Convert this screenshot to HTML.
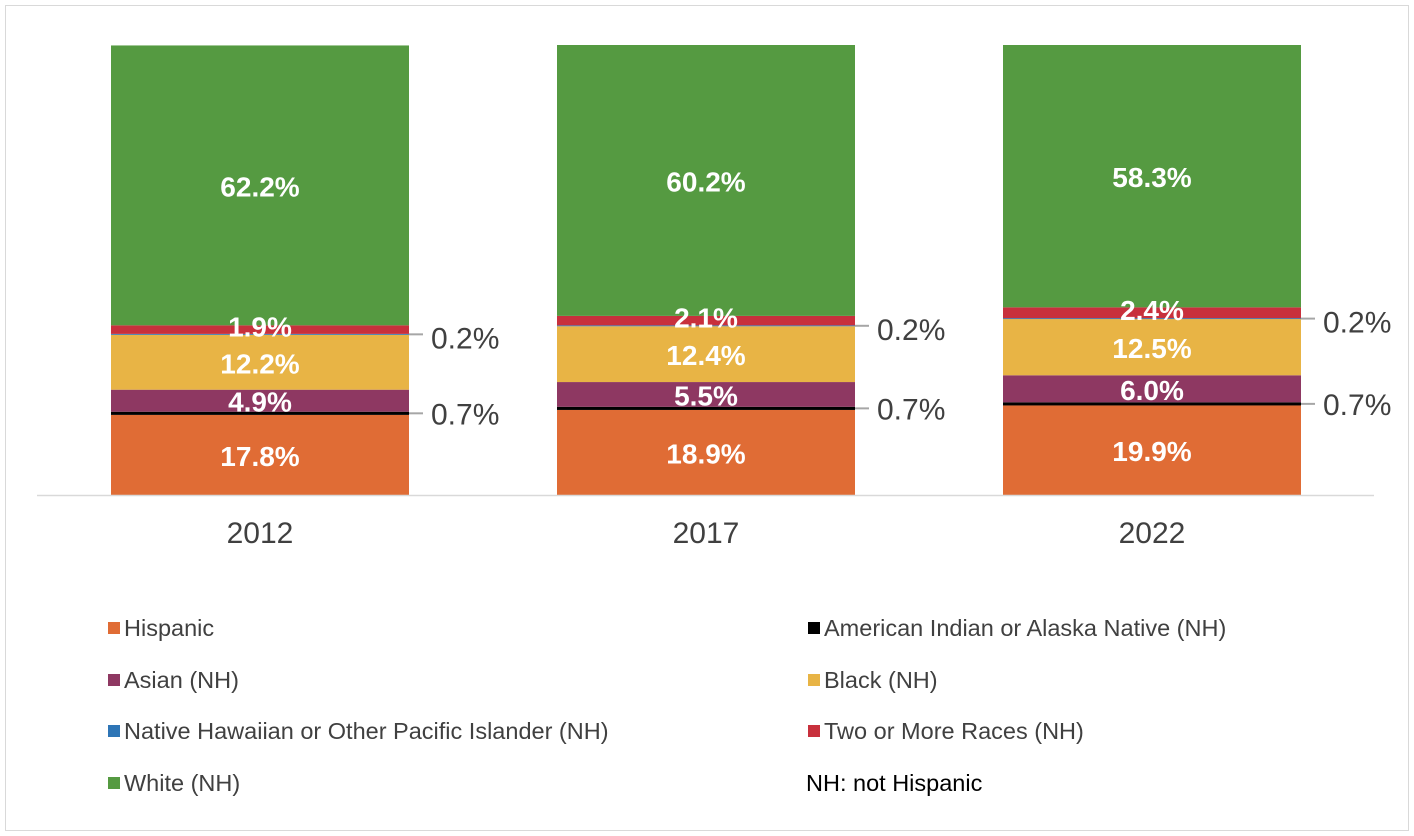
<!DOCTYPE html>
<html><head><meta charset="utf-8"><style>
body{margin:0;background:#fff;font-family:"Liberation Sans",Arial,sans-serif}
svg{display:block}
</style></head><body>
<svg id="chart" width="1414" height="836" xmlns="http://www.w3.org/2000/svg">
<rect x="5.5" y="5.5" width="1403" height="825" fill="#fff" stroke="#d9d9d9"/>
<g id="bars"></g>
<g id="labels"></g>
<line x1="37" y1="495.5" x2="1374" y2="495.5" stroke="#d9d9d9" stroke-width="1.5"/>
<g id="legend"></g>
</svg>
<script>
const years = ["2012","2017","2022"];
const seriesNames = ["Hispanic","American Indian or Alaska Native (NH)","Asian (NH)","Black (NH)","Native Hawaiian or Other Pacific Islander (NH)","Two or More Races (NH)","White (NH)"];
const hispanic = [17.8,18.9,19.9];
const aian = [0.7,0.7,0.7];
const asian = [4.9,5.5,6.0];
const black = [12.2,12.4,12.5];
const nhpi = [0.2,0.2,0.2];
const twoPlus = [1.9,2.1,2.4];
const white = [62.2,60.2,58.3];

const series=[hispanic,aian,asian,black,nhpi,twoPlus,white];
const colors=["#e06c35","#000000","#8e3862","#e8b445","#2e75b6","#c8303c","#559a41"];
const keys=["hispanic","aian","asian","black","nhpi","two-or-more","white"];
const NS="http://www.w3.org/2000/svg";
const y0=495, yTop=45;
const yScale=v=>(yTop-y0)/100*v;
const barW=298, centers=[260,706,1152];
const g=document.getElementById('bars');
const gl=document.getElementById('labels');
function el(t,a){const e=document.createElementNS(NS,t);for(const k in a)e.setAttribute(k,a[k]);return e;}
years.forEach((yr,i)=>{
  let cum=0;
  const x=centers[i]-barW/2;
  series.forEach((s,j)=>{
    const v=s[i];
    const yb=y0+yScale(cum), yt=y0+yScale(cum+v);
    const r=el('rect',{x:x,y:yt,width:barW,height:yb-yt,fill:colors[j]});
    
    
    g.appendChild(r);
    const mid=(yb+yt)/2;
    if(j===1||j===4){
      const ln=el('line',{x1:x+barW,y1:mid,x2:x+barW+14,y2:mid,stroke:'#a6a6a6','stroke-width':2});
      
      
      gl.appendChild(ln);
      const t=el('text',{x:x+barW+22,y:mid+(j===4?14:11),'font-size':30,fill:'#404040'});
      t.textContent=v.toFixed(1)+'%';
      
      
      gl.appendChild(t);
    } else {
      const t=el('text',{x:centers[i],y:mid+(j===5?7:11),'font-size':28,'font-weight':'bold',fill:'#fff','text-anchor':'middle'});
      t.textContent=v.toFixed(1)+'%';
      
      
      gl.appendChild(t);
    }
    cum+=v;
  });
  const xl=el('text',{x:centers[i],y:543,'font-size':30,fill:'#404040','text-anchor':'middle'});
  xl.textContent=yr;
  
  
  gl.appendChild(xl);
});
const lg=document.getElementById('legend');
const order=[0,1,2,3,4,5,6];
const rows=[628,680,731,783], cols=[108,808];
order.forEach((j,k)=>{
  const cx=cols[k%2], cy=rows[Math.floor(k/2)];
  const sq=el('rect',{x:cx,y:cy-6,width:12,height:12,fill:colors[j]});
  
  
  lg.appendChild(sq);
  const t=el('text',{x:cx+16,y:cy+8,'font-size':23.5,fill:'#404040'});
  t.textContent=seriesNames[j];
  
  
  lg.appendChild(t);
});
const note=el('text',{x:806,y:791,'font-size':23.5,fill:'#000'});
note.textContent='NH: not Hispanic';


lg.appendChild(note);
</script>
</body></html>
